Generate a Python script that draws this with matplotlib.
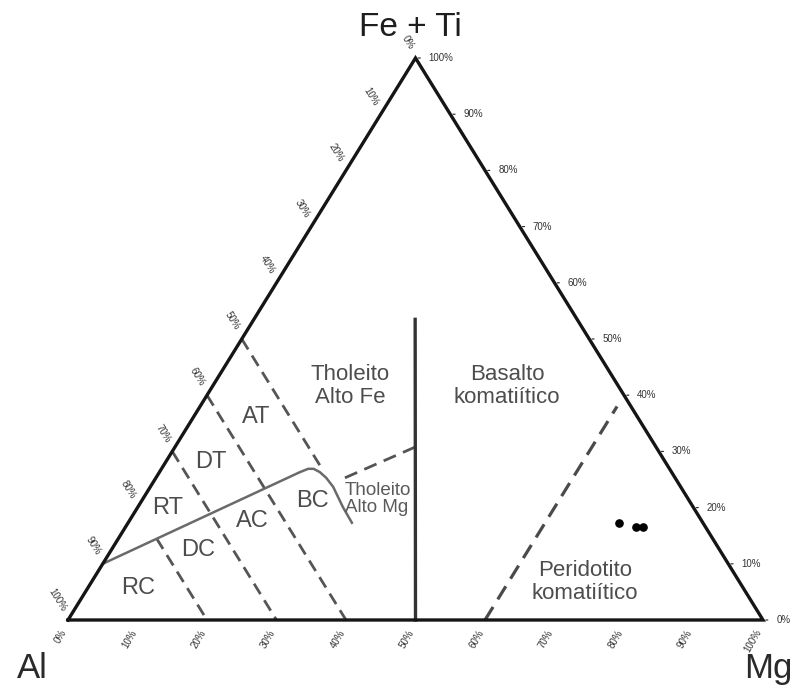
import matplotlib
matplotlib.use("Agg")
import matplotlib.pyplot as plt
import numpy as np

plt.rcParams['font.family'] = ['Liberation Sans', 'DejaVu Sans']

# Jensen cation plot: compositions as (Al, Fe+Ti, Mg) percentages
sample_al = [12.0, 10.0, 9.0]
sample_feti = [17.3, 16.5, 16.6]
sample_mg = [70.7, 73.5, 74.4]

tick_values = [0, 10, 20, 30, 40, 50, 60, 70, 80, 90, 100]
tick_labels = [f"{v}%" for v in tick_values]

# field boundaries (Al, Fe+Ti, Mg)
calc_alk_boundary = [(90, 10, 0), (53.5, 26.3, 20.2), (52.0, 26.9, 21.1),
                     (51.2, 26.9, 21.9), (50.6, 26.3, 23.1), (50.2, 25.3, 24.5),
                     (50.0, 23.7, 26.3), (50.2, 21.9, 27.9), (50.4, 20.1, 29.5),
                     (50.5, 17.3, 32.2)]
al80_line = [(80, 14.5, 5.5), (80, 0, 20)]
al70_line = [(70, 30, 0), (70, 0, 30)]
al60_line = [(60, 40, 0), (60, 0, 40)]
al50_line = [(50, 50, 0), (50, 26.5, 23.5)]
hft_hmt_line = [(47.5, 25.3, 27.2), (34.6, 30.8, 34.6)]
komatiite_divider = [(23.3, 53.5, 23.2), (50, 0, 50)]
peridotite_line = [(40, 0, 60), (2, 38, 60)]


def tern(al, fe, mg):
    s = al + fe + mg
    return (mg + fe / 2.0) / s, fe / s


def tern_list(pts):
    xy = np.array([tern(*p) for p in pts])
    return xy[:, 0], xy[:, 1]


fig = plt.figure(figsize=(7.98, 6.89), dpi=100)
ax = fig.add_axes([0, 0, 1, 1])
ax.set_xlim(-68 / 695, 730 / 695)
ax.set_ylim(-69 / 562, 620 / 562)
ax.axis("off")

# triangle frame
fx, fy = tern_list([(100, 0, 0), (0, 0, 100), (0, 100, 0), (100, 0, 0)])
ax.plot(fx, fy, color="#151515", lw=2.4, solid_joinstyle="miter", zorder=5)

dash_kw = dict(color="#555555", lw=2.0, dashes=(4.4, 2.6))
for line in (al80_line, al70_line, al60_line, al50_line):
    ax.plot(*tern_list(line), **dash_kw)
ax.plot(*tern_list(hft_hmt_line), color="#555555", lw=2.0, dashes=(4.8, 2.8))
ax.plot(*tern_list(peridotite_line), color="#4a4a4a", lw=2.3, dashes=(4.8, 2.8))

ax.plot(*tern_list(calc_alk_boundary), color="#6a6a6a", lw=1.8,
        solid_joinstyle="round")
ax.plot(*tern_list(komatiite_divider), color="#333333", lw=2.4)

# samples
sx, sy = tern_list(list(zip(sample_al, sample_feti, sample_mg)))
ax.plot(sx, sy, "o", color="black", ms=5.2, zorder=6)

tick_fs = 7
tick_col = "#333333"
for v, lab in zip(tick_values, tick_labels):
    # bottom axis: Mg
    bx, by = tern(100 - v, 0, v)
    ax.annotate(lab, (bx, by), xytext=(-2.5, -7.5), textcoords="offset points",
                rotation=60, rotation_mode="anchor", ha="right", va="center",
                fontsize=tick_fs, color=tick_col)
    ax.annotate("", (bx, by), xytext=(0, -2.5), textcoords="offset points",
                arrowprops=dict(arrowstyle="-", color="#222222", lw=0.8))
    # right axis: Fe+Ti
    rx, ry = tern(0, v, 100 - v)
    ax.annotate(lab, (rx, ry), xytext=(9.5, 0), textcoords="offset points",
                ha="left", va="center", fontsize=tick_fs, color=tick_col)
    ax.annotate("", (rx, ry), xytext=(5.5, 0), textcoords="offset points",
                arrowprops=dict(arrowstyle="-", color="#222222", lw=0.8))
    # left axis: Al
    lx, ly = tern(v, 100 - v, 0)
    ax.annotate(lab, (lx, ly), xytext=(-3, 7), textcoords="offset points",
                rotation=-58, rotation_mode="anchor", ha="right", va="center",
                fontsize=tick_fs, color=tick_col)
    ax.annotate("", (lx, ly), xytext=(-2.5, 0), textcoords="offset points",
                arrowprops=dict(arrowstyle="-", color="#222222", lw=0.8))

# vertex titles
ax.annotate("Fe + Ti", tern(0, 100, 0), xytext=(-4, 22), textcoords="offset points",
            ha="center", va="center", fontsize=24, color="#1e1e1e")
ax.annotate("Al", tern(100, 0, 0), xytext=(-26, -35), textcoords="offset points",
            ha="center", va="center", fontsize=25, color="#2a2a2a")
ax.annotate("Mg", tern(0, 0, 100), xytext=(4, -35), textcoords="offset points",
            ha="center", va="center", fontsize=25, color="#2a2a2a")

# field names
field_col = "#4d4d4d"
fields = {
    "AT": (54.9, 36.1, 9.0),
    "DT": (65.4, 28.1, 6.5),
    "RT": (75.7, 19.9, 4.4),
    "BC": (54.2, 21.2, 24.6),
    "AC": (64.7, 17.6, 17.7),
    "DC": (75.0, 12.5, 12.5),
    "RC": (87.1, 5.7, 7.2),
}
for name, pos in fields.items():
    ax.text(*tern(*pos), name, ha="center", va="center", fontsize=17, color=field_col)

ax.text(*tern(38.6, 41.6, 19.8), "Tholeito\nAlto Fe", ha="center", va="center",
        fontsize=16, color=field_col, linespacing=1.1)
ax.text(*tern(16.0, 41.6, 42.4), "Basalto\nkomatiítico", ha="center", va="center",
        fontsize=16, color=field_col, linespacing=1.1)
ax.text(*tern(49.4, 21.5, 29.1), "Tholeito\nAlto Mg", ha="left", va="center",
        fontsize=13.5, color="#5a5a5a", linespacing=1.05)
ax.text(*tern(22.2, 6.8, 71.0), "Peridotito\nkomatiítico", ha="center", va="center",
        fontsize=16, color=field_col, linespacing=1.1)

fig.savefig("out.png", dpi=100, facecolor="white")
